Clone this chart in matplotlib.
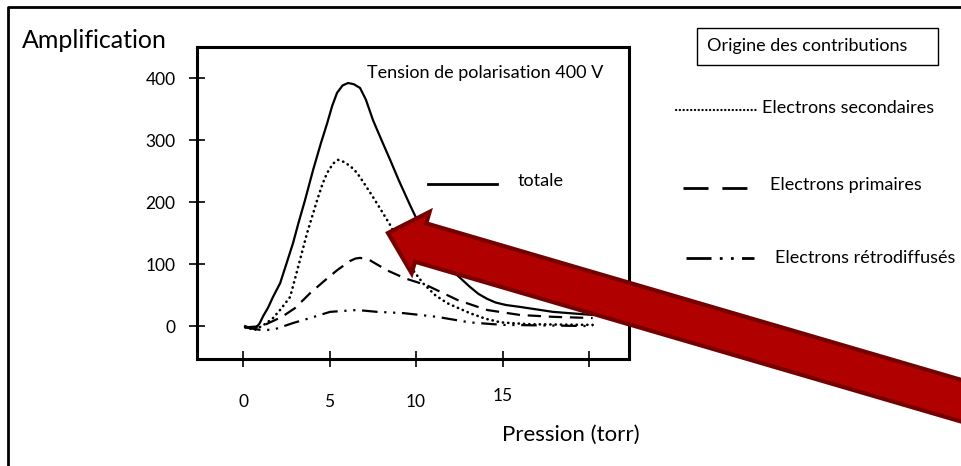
import matplotlib
matplotlib.use("Agg")
import matplotlib.pyplot as plt
import matplotlib.transforms as mtransforms
from matplotlib.patches import Rectangle, FancyArrow

plt.rcParams["font.family"] = ["Lato", "DejaVu Sans"]

# values (pression in torr, amplification)
x_totale = [0.12, 0.4, 0.69, 0.95, 1.16, 1.45, 1.73, 2.14, 2.5, 2.89, 3.2, 3.58, 4.05, 4.5, 4.86, 5.15,
            5.43, 5.75, 6.07, 6.4, 6.76, 7.1, 7.51, 8.0, 8.5, 9.0, 9.65, 10.06, 10.6, 11.2, 12.14,
            13.12, 13.6, 14.1, 14.6, 15.2, 16.0, 17.9, 20.2]
y_totale = [0, -3, -4, 4, 16, 30, 47, 69, 100, 134, 166, 203, 252, 295, 327, 355,
            376, 388, 392, 390, 384, 365, 332, 300, 268, 235, 195, 171, 140, 115, 88,
            63, 52, 44, 38, 34, 31, 23, 18]

x_second = [0.12, 0.69, 1.2, 1.7, 2.14, 2.72, 3.18, 3.7, 4.28, 4.6, 4.86, 5.2, 5.49, 5.8, 6.2, 6.59,
            7.0, 7.51, 8.0, 8.5, 9.2, 9.83, 10.4, 11.1, 11.8, 13.1, 14.0, 14.9, 16.6, 20.2]
y_second = [-2, -6, 2, 12, 26, 47, 95, 150, 203, 230, 247, 262, 268, 265, 258, 247,
            230, 208, 186, 163, 125, 90, 69, 50, 37, 21, 12, 6, 3, 2]

x_prim = [0.12, 1.1, 2.25, 3.0, 3.87, 4.74, 5.43, 6.18, 6.5, 6.76, 7.0, 7.34, 8.32, 9.36, 10.6,
          12.4, 14.1, 16.0, 17.9, 20.2]
y_prim = [-2, 0, 15, 29, 53, 74, 90, 105, 109, 110, 109, 106, 90, 77, 66,
          42, 26, 18, 15, 13]

x_retro = [0.12, 0.98, 1.73, 2.89, 3.87, 5.03, 6.59, 7.75, 9.25, 11.2, 13.1, 15.0, 20.2]
y_retro = [-2, -6, -6, 5, 13, 23, 26, 23, 21, 15, 6, 2, 0]

xticks = [0, 5, 10, 15, 20]
xtick_labels = ["0", "5", "10", "15", ""]
yticks = [0, 100, 200, 300, 400]

fig = plt.figure(figsize=(9.61, 4.66), dpi=100)
ax = fig.add_axes([197 / 961, 1 - 359 / 466, 432 / 961, 312 / 466])

lw = 1.6
ax.plot(x_totale, y_totale, color="black", lw=lw, ls="-")
ax.plot(x_second, y_second, color="black", lw=1.9, ls=(0, (0.1, 1.9)), dash_capstyle="round")
ax.plot(x_prim, y_prim, color="black", lw=lw, ls=(0, (6, 3.5)))
ax.plot(x_retro, y_retro, color="black", lw=lw, ls=(0, (7, 3, 1, 3, 1, 3)))

ax.set_xlim(-2.66, 22.3)
ax.set_ylim(-53, 450)
ax.set_xticks(xticks)
ax.set_xticklabels(xtick_labels)
ax.set_yticks(yticks)
for s in ax.spines.values():
    s.set_linewidth(2.2)
ax.tick_params(axis="x", direction="inout", length=11, width=1.2, pad=20, labelsize=12.5)
ax.tick_params(axis="y", direction="inout", length=11, width=1.2, pad=10, labelsize=12.5)

# the "15" sits a little higher than the others in the original
lab15 = ax.get_xticklabels()[3]
lab15.set_transform(lab15.get_transform() + mtransforms.ScaledTranslation(0, 0.06, fig.dpi_scale_trans))

# overlay in pixel coordinates for the annotations
ov = fig.add_axes([0, 0, 1, 1], zorder=5)
ov.set_xlim(0, 961)
ov.set_ylim(466, 0)
ov.axis("off")
ov.patch.set_alpha(0)

ov.plot([8, 8, 961], [466, 7, 7], color="black", lw=2, clip_on=False)

ov.text(22, 40, "Amplification", fontsize=18, va="center", ha="left")
ov.text(502, 435, "Pression (torr)", fontsize=16, va="center", ha="left")
ov.text(367, 73, "Tension de polarisation 400 V", fontsize=13, va="center", ha="left")

ov.plot([428, 497], [184, 184], color="black", lw=2)
ov.text(518, 181, "totale", fontsize=13, va="center", ha="left")

ov.add_patch(Rectangle((697, 28), 241, 37, fill=False, ec="black", lw=1))
ov.text(707, 46, "Origine des contributions", fontsize=13, va="center", ha="left")

ov.plot([676, 757], [110, 110], color="black", lw=1.6, ls=(0, (0.1, 1.6)), dash_capstyle="round")
ov.text(762, 108, "Electrons secondaires", fontsize=13, va="center", ha="left")

ov.plot([683, 754], [188, 188], color="black", lw=2, ls=(0, (9, 5)))
ov.text(770, 185, "Electrons primaires", fontsize=13, va="center", ha="left")

ov.plot([686, 754], [258, 258], color="black", lw=2, ls=(0, (9, 3, 1, 3, 1, 3)))
ov.text(775, 258, "Electrons rétrodiffusés", fontsize=13, va="center", ha="left")

# big red arrow pointing at the curves
ov.add_patch(FancyArrow(1010, 415, 388 - 1010, 233 - 415, width=40, head_width=64,
                        head_length=34, length_includes_head=True,
                        fc="#b00000", ec="#760000", lw=3, clip_on=False))

fig.savefig("out.png", dpi=100)
